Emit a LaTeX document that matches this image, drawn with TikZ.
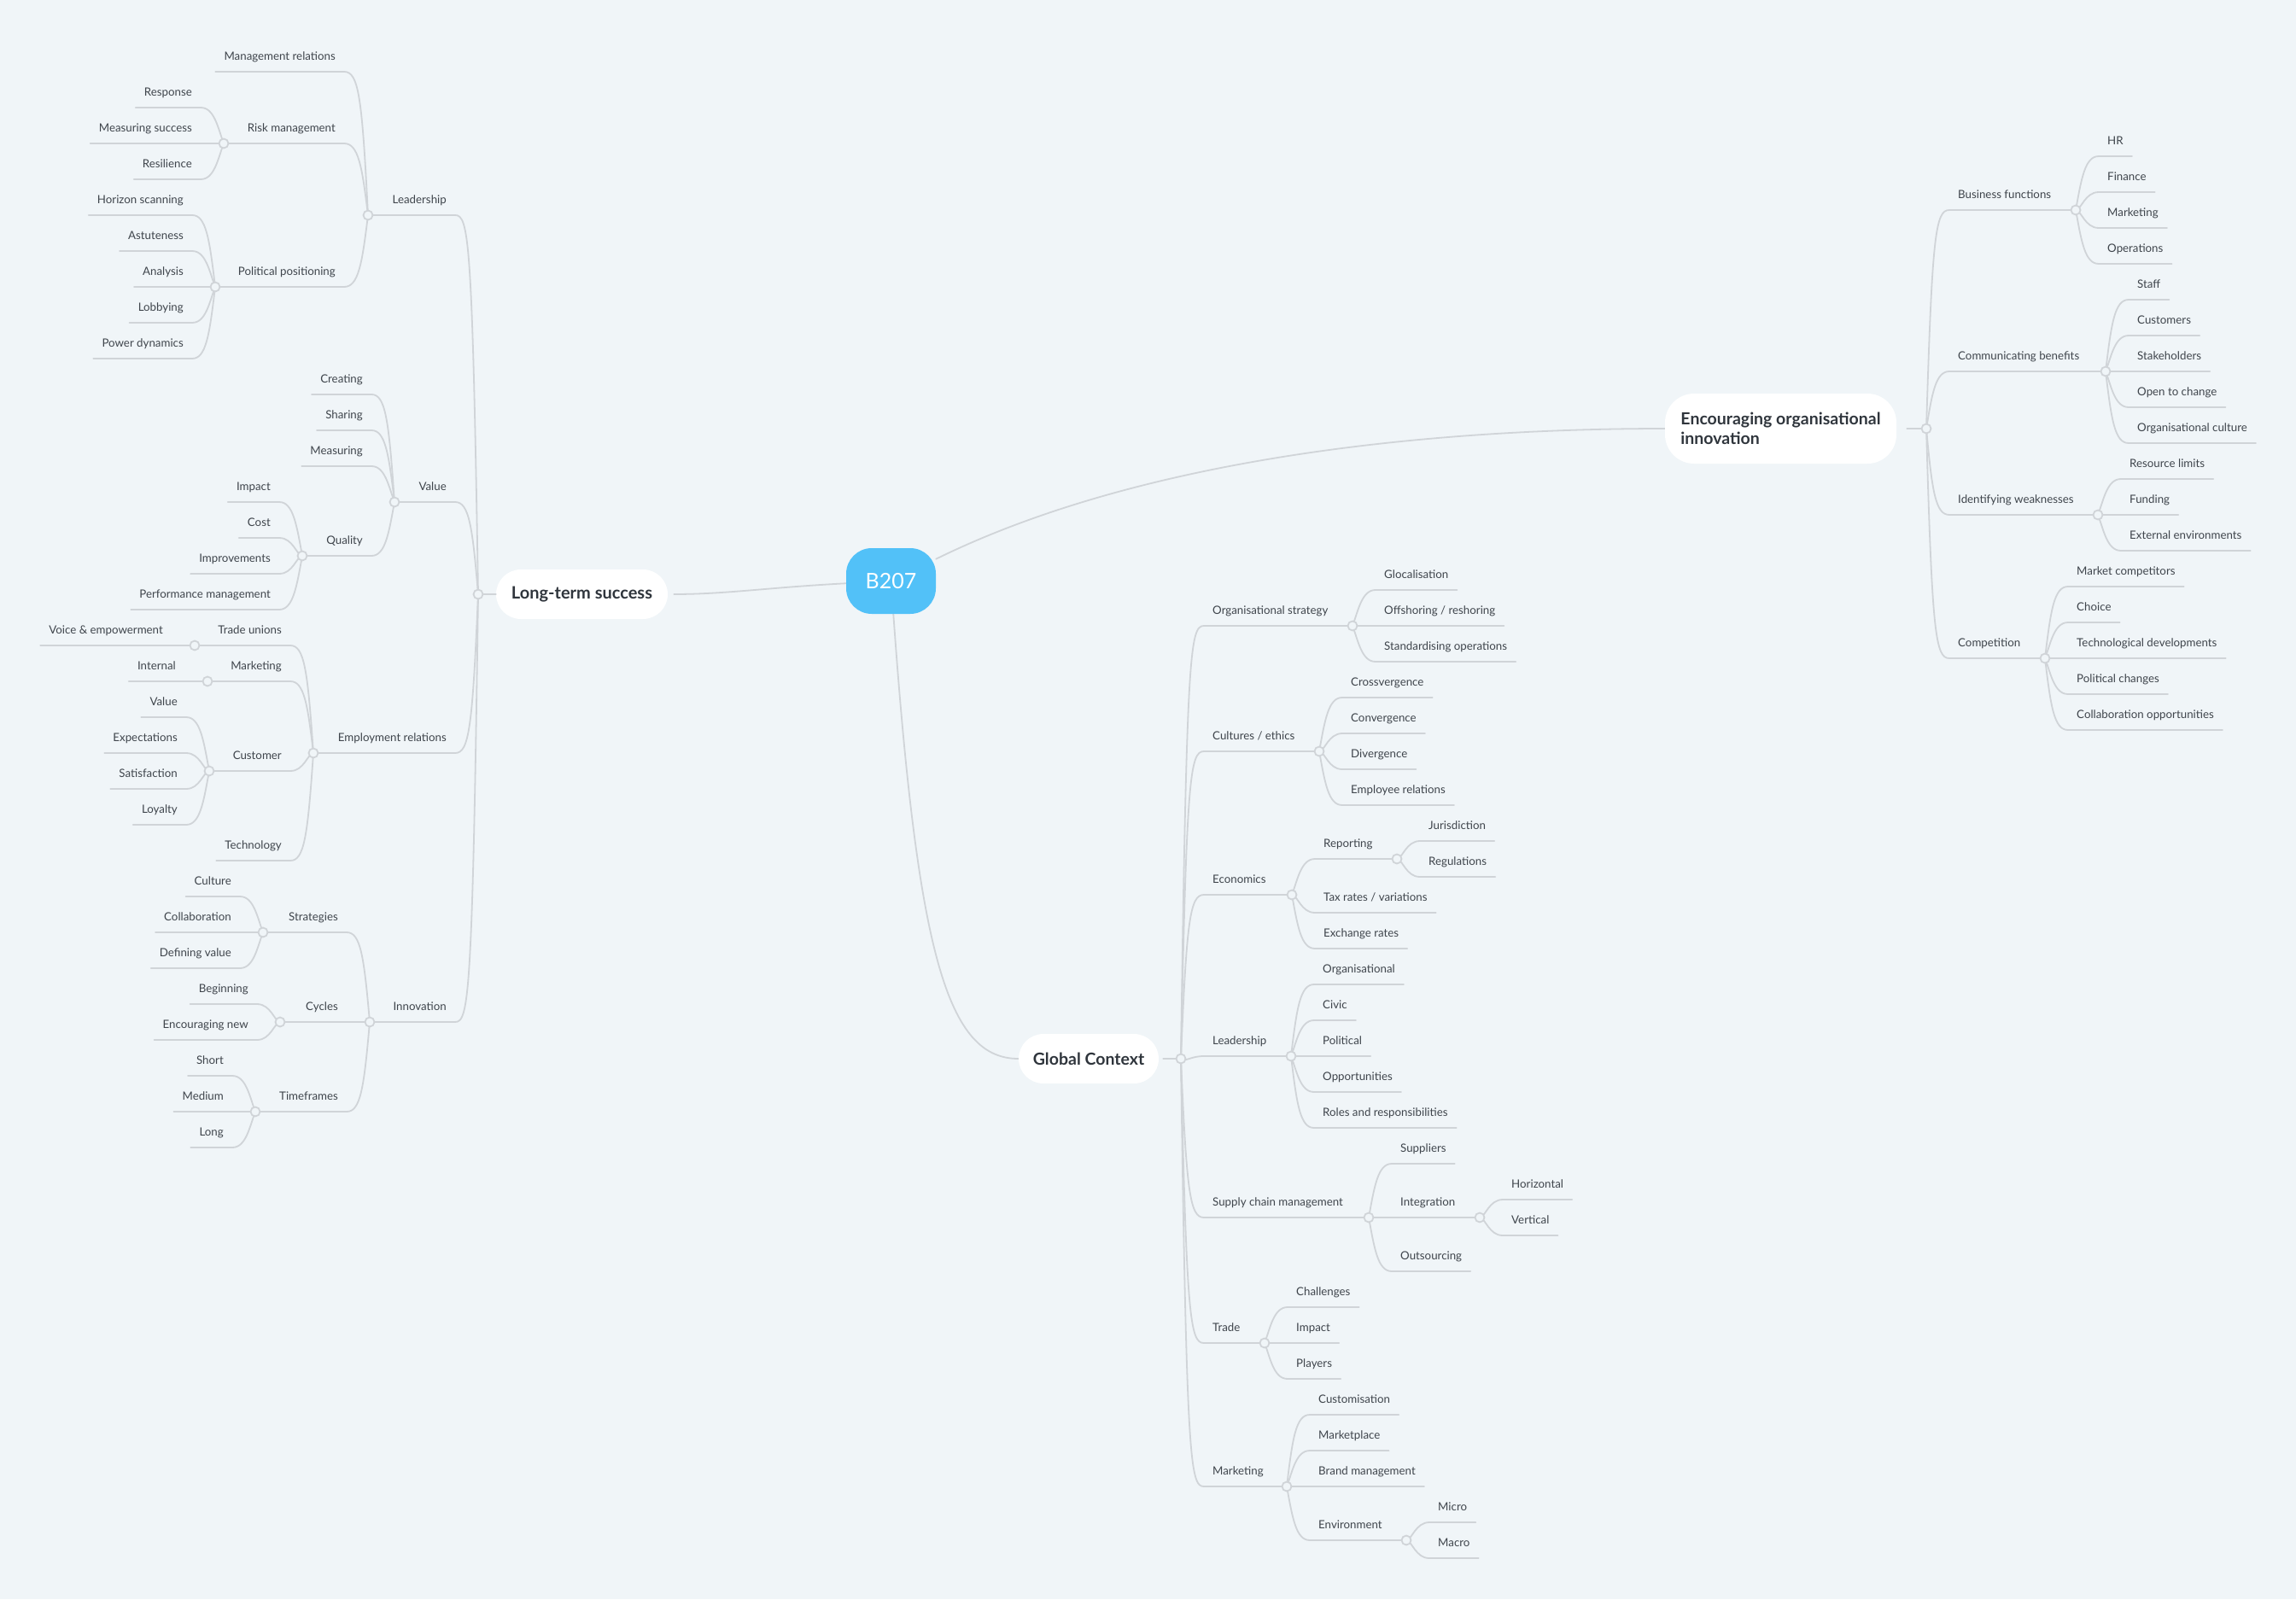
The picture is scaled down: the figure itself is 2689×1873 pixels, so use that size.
\documentclass[tikz,border=0pt]{standalone}
\usepackage{fontspec}
\setmainfont{Lato}
\usetikzlibrary{calc, backgrounds}
\definecolor{bgblue}{HTML}{F0F5F8}
\definecolor{linegray}{HTML}{D0D4D8}
\definecolor{leafgray}{HTML}{3F454C}
\definecolor{titlegray}{HTML}{2F353C}
\definecolor{rootblue}{HTML}{52C1F8}

\begin{document}
\begin{tikzpicture}[x=1pt, y=-1pt,
    link/.style={draw=linegray, line width=1.8pt, line cap=round},
    lbl/.style={font=\fontsize{13.3}{16}\selectfont, text=leafgray,
                inner xsep=10pt, inner ysep=0pt, text depth=13pt},
    lblL/.style={lbl, anchor=south east},
    lblR/.style={lbl, anchor=south west},
    pill/.style={fill=white, rounded corners=29pt, minimum height=58pt,
                 font=\fontsize{19.5}{23.5}\selectfont\bfseries, text=titlegray},
    knot/.style={draw=linegray, fill=bgblue, line width=1.8pt},
    curvy/.style={to path={let \p1=(\tikztostart), \p2=(\tikztotarget),
                  \n1={(\y2-\y1)/(abs(\y2-\y1)+10)*30} in
                  .. controls (\x1+0.6*\x2-0.6*\x1, \y1)
                  and (\x1+0.75*\x2-0.75*\x1, \y1+\n1) .. (\tikztotarget)}}]
  \useasboundingbox (0,0) rectangle (2689,1873);

  %► Central topic and main branches
  \node[fill=rootblue, text=white, rounded corners=30pt, minimum width=105pt,
        minimum height=77pt, font=\fontsize{25}{30}\selectfont] (root) at (1043.5,680.5) {B207};
  \node[pill, minimum width=201pt, font=\fontsize{20}{24}\selectfont\bfseries] (lts) at (681.5,696) {Long-term success};
  \node[pill, minimum width=164pt] (gc) at (1275,1240) {Global Context};
  \node[pill, minimum width=271pt, minimum height=82pt, rounded corners=34pt,
        align=left] (enc) at (2085.5,502) {Encouraging organisational\\innovation};

  %► Junction points
  \coordinate (jLTS)    at (560,696);
  \coordinate (jLead)   at (431,252);
  \coordinate (jRisk)   at (262,168);
  \coordinate (jPolit)  at (252,336);
  \coordinate (jValue)  at (462,588);
  \coordinate (jQual)   at (354,651);
  \coordinate (jEmp)    at (367,882);
  \coordinate (jTU)     at (228,756);
  \coordinate (jMkt)    at (243,798);
  \coordinate (jCust)   at (245,903);
  \coordinate (jInnov)  at (433,1197);
  \coordinate (jStrat)  at (308,1092);
  \coordinate (jCyc)    at (328,1197);
  \coordinate (jTime)   at (299,1302);
  \coordinate (jEnc)    at (2256,502);
  \coordinate (jBus)    at (2431,246);
  \coordinate (jComm)   at (2466,435);
  \coordinate (jWeak)   at (2457,603);
  \coordinate (jComp)   at (2395,771);
  \coordinate (jGC)     at (1383,1240);
  \coordinate (jOrgs)   at (1584,733);
  \coordinate (jCult)   at (1545,880);
  \coordinate (jEcon)   at (1513,1048);
  \coordinate (jRep)    at (1636,1006);
  \coordinate (jGlead)  at (1512,1237);
  \coordinate (jSupply) at (1603,1426);
  \coordinate (jInteg)  at (1733,1426);
  \coordinate (jTrade)  at (1481,1573);
  \coordinate (jGmkt)   at (1507,1741);
  \coordinate (jEnv)    at (1647,1804);

  %► Background and links from the centre
  \begin{scope}[on background layer]
    \fill[bgblue] (0,0) rectangle (2689,1873);
    \draw[link] (root) .. controls (1350,530) and (1700,502) .. (enc.west);
    \draw[link] (root) .. controls (1075,1120) and (1110,1240) .. (gc.west);
    \draw[link] (root) .. controls (900,688) and (850,696) .. ([xshift=7pt]lts.east);
  \end{scope}
  \draw[link] (lts.west) -- (jLTS);
  \draw[link] ([xshift=12pt]enc.east) -- (jEnc);
  \draw[link] ([xshift=5pt]gc.east) -- (jGC);

  %► Long-term success
  \node[lblL] (lead) at (533,252) {Leadership};
  \draw[link] (jLead) -- (lead.south east) to[curvy] (jLTS);
  \node[lblL] (mgmt) at (403,84) {Management relations};
  \draw[link] (mgmt.south west) -- (mgmt.south east) to[curvy] (jLead);
  \node[lblL] (risk) at (403,168) {Risk management};
  \draw[link] (jRisk) -- (risk.south east) to[curvy] (jLead);
  \foreach \txt/\yy [count=\i] in {Response/126, Measuring success/168, Resilience/210}{
    \node[lblL] (risk\i) at (235,\yy) {\txt};
    \draw[link] (risk\i.south west) -- (risk\i.south east) to[curvy] (jRisk);
  }
  \node[lblL] (polit) at (403,336) {Political positioning};
  \draw[link] (jPolit) -- (polit.south east) to[curvy] (jLead);
  \foreach \txt/\yy [count=\i] in {Horizon scanning/252, Astuteness/294, Analysis/336,
      Lobbying/378, Power dynamics/420}{
    \node[lblL] (polit\i) at (225,\yy) {\txt};
    \draw[link] (polit\i.south west) -- (polit\i.south east) to[curvy] (jPolit);
  }

  \node[lblL] (value) at (533,588) {Value};
  \draw[link] (jValue) -- (value.south east) to[curvy] (jLTS);
  \foreach \txt/\yy [count=\i] in {Creating/462, Sharing/504, Measuring/546}{
    \node[lblL] (value\i) at (435,\yy) {\txt};
    \draw[link] (value\i.south west) -- (value\i.south east) to[curvy] (jValue);
  }
  \node[lblL] (qual) at (435,651) {Quality};
  \draw[link] (jQual) -- (qual.south east) to[curvy] (jValue);
  \foreach \txt/\yy [count=\i] in {Impact/588, Cost/630, Improvements/672,
      Performance management/714}{
    \node[lblL] (qual\i) at (327,\yy) {\txt};
    \draw[link] (qual\i.south west) -- (qual\i.south east) to[curvy] (jQual);
  }

  \node[lblL] (emp) at (533,882) {Employment relations};
  \draw[link] (jEmp) -- (emp.south east) to[curvy] (jLTS);
  \node[lblL] (tu) at (340,756) {Trade unions};
  \draw[link] (jTU) -- (tu.south east) to[curvy] (jEmp);
  \node[lblL] (voice) at (201,756) {Voice \& empowerment};
  \draw[link] (voice.south west) -- (voice.south east) to[curvy] (jTU);
  \node[lblL] (mkt) at (340,798) {Marketing};
  \draw[link] (jMkt) -- (mkt.south east) to[curvy] (jEmp);
  \node[lblL] (internal) at (216,798) {Internal};
  \draw[link] (internal.south west) -- (internal.south east) to[curvy] (jMkt);
  \node[lblL] (cust) at (340,903) {Customer};
  \draw[link] (jCust) -- (cust.south east) to[curvy] (jEmp);
  \foreach \txt/\yy [count=\i] in {Value/840, Expectations/882, Satisfaction/924, Loyalty/966}{
    \node[lblL] (cust\i) at (218,\yy) {\txt};
    \draw[link] (cust\i.south west) -- (cust\i.south east) to[curvy] (jCust);
  }
  \node[lblL] (tech) at (340,1008) {Technology};
  \draw[link] (tech.south west) -- (tech.south east) to[curvy] (jEmp);

  \node[lblL] (innov) at (533,1197) {Innovation};
  \draw[link] (jInnov) -- (innov.south east) to[curvy] (jLTS);
  \node[lblL] (strat) at (406,1092) {Strategies};
  \draw[link] (jStrat) -- (strat.south east) to[curvy] (jInnov);
  \foreach \txt/\yy [count=\i] in {Culture/1050, Collaboration/1092, Defining value/1134}{
    \node[lblL] (strat\i) at (281,\yy) {\txt};
    \draw[link] (strat\i.south west) -- (strat\i.south east) to[curvy] (jStrat);
  }
  \node[lblL] (cyc) at (406,1197) {Cycles};
  \draw[link] (jCyc) -- (cyc.south east) to[curvy] (jInnov);
  \foreach \txt/\yy [count=\i] in {Beginning/1176, Encouraging new/1218}{
    \node[lblL] (cyc\i) at (301,\yy) {\txt};
    \draw[link] (cyc\i.south west) -- (cyc\i.south east) to[curvy] (jCyc);
  }
  \node[lblL] (time) at (406,1302) {Timeframes};
  \draw[link] (jTime) -- (time.south east) to[curvy] (jInnov);
  \foreach \txt/\yy [count=\i] in {Short/1260, Medium/1302, Long/1344}{
    \node[lblL] (time\i) at (272,\yy) {\txt};
    \draw[link] (time\i.south west) -- (time\i.south east) to[curvy] (jTime);
  }

  %► Encouraging organisational innovation
  \node[lblR] (bus) at (2283,246) {Business functions};
  \draw[link] (jBus) -- (bus.south west) to[curvy] (jEnc);
  \foreach \txt/\yy [count=\i] in {HR/183, Finance/225, Marketing/267, Operations/309}{
    \node[lblR] (bus\i) at (2458,\yy) {\txt};
    \draw[link] (bus\i.south east) -- (bus\i.south west) to[curvy] (jBus);
  }
  \node[lblR] (comm) at (2283,435) {Communicating benefits};
  \draw[link] (jComm) -- (comm.south west) to[curvy] (jEnc);
  \foreach \txt/\yy [count=\i] in {Staff/351, Customers/393, Stakeholders/435,
      Open to change/477, Organisational culture/519}{
    \node[lblR] (comm\i) at (2493,\yy) {\txt};
    \draw[link] (comm\i.south east) -- (comm\i.south west) to[curvy] (jComm);
  }
  \node[lblR] (weak) at (2283,603) {Identifying weaknesses};
  \draw[link] (jWeak) -- (weak.south west) to[curvy] (jEnc);
  \foreach \txt/\yy [count=\i] in {Resource limits/561, Funding/603, External environments/645}{
    \node[lblR] (weak\i) at (2484,\yy) {\txt};
    \draw[link] (weak\i.south east) -- (weak\i.south west) to[curvy] (jWeak);
  }
  \node[lblR] (comp) at (2283,771) {Competition};
  \draw[link] (jComp) -- (comp.south west) to[curvy] (jEnc);
  \foreach \txt/\yy [count=\i] in {Market competitors/687, Choice/729,
      Technological developments/771, Political changes/813, Collaboration opportunities/855}{
    \node[lblR] (comp\i) at (2422,\yy) {\txt};
    \draw[link] (comp\i.south east) -- (comp\i.south west) to[curvy] (jComp);
  }

  %► Global Context
  \node[lblR] (orgs) at (1410,733) {Organisational strategy};
  \draw[link] (jOrgs) -- (orgs.south west) to[curvy] (jGC);
  \foreach \txt/\yy [count=\i] in {Glocalisation/691, {Offshoring / reshoring}/733,
      Standardising operations/775}{
    \node[lblR] (orgs\i) at (1611,\yy) {\txt};
    \draw[link] (orgs\i.south east) -- (orgs\i.south west) to[curvy] (jOrgs);
  }
  \node[lblR] (cult) at (1410,880) {Cultures / ethics};
  \draw[link] (jCult) -- (cult.south west) to[curvy] (jGC);
  \foreach \txt/\yy [count=\i] in {Crossvergence/817, Convergence/859, Divergence/901,
      Employee relations/943}{
    \node[lblR] (cult\i) at (1572,\yy) {\txt};
    \draw[link] (cult\i.south east) -- (cult\i.south west) to[curvy] (jCult);
  }
  \node[lblR] (econ) at (1410,1048) {Economics};
  \draw[link] (jEcon) -- (econ.south west) to[curvy] (jGC);
  \node[lblR] (rep) at (1540,1006) {Reporting};
  \draw[link] (jRep) -- (rep.south west) to[curvy] (jEcon);
  \foreach \txt/\yy [count=\i] in {Jurisdiction/985, Regulations/1027}{
    \node[lblR] (rep\i) at (1663,\yy) {\txt};
    \draw[link] (rep\i.south east) -- (rep\i.south west) to[curvy] (jRep);
  }
  \foreach \txt/\yy [count=\i] in {{Tax rates / variations}/1069, Exchange rates/1111}{
    \node[lblR] (econ\i) at (1540,\yy) {\txt};
    \draw[link] (econ\i.south east) -- (econ\i.south west) to[curvy] (jEcon);
  }
  \node[lblR] (glead) at (1410,1237) {Leadership};
  \draw[link] (jGlead) -- (glead.south west) to[curvy] (jGC);
  \foreach \txt/\yy [count=\i] in {Organisational/1153, Civic/1195, Political/1237,
      Opportunities/1279, Roles and responsibilities/1321}{
    \node[lblR] (glead\i) at (1539,\yy) {\txt};
    \draw[link] (glead\i.south east) -- (glead\i.south west) to[curvy] (jGlead);
  }
  \node[lblR] (supply) at (1410,1426) {Supply chain management};
  \draw[link] (jSupply) -- (supply.south west) to[curvy] (jGC);
  \node[lblR] (suppl) at (1630,1363) {Suppliers};
  \draw[link] (suppl.south east) -- (suppl.south west) to[curvy] (jSupply);
  \node[lblR] (integ) at (1630,1426) {Integration};
  \draw[link] (jInteg) -- (integ.south west) to[curvy] (jSupply);
  \foreach \txt/\yy [count=\i] in {Horizontal/1405, Vertical/1447}{
    \node[lblR] (integ\i) at (1760,\yy) {\txt};
    \draw[link] (integ\i.south east) -- (integ\i.south west) to[curvy] (jInteg);
  }
  \node[lblR] (outs) at (1630,1489) {Outsourcing};
  \draw[link] (outs.south east) -- (outs.south west) to[curvy] (jSupply);
  \node[lblR] (trade) at (1410,1573) {Trade};
  \draw[link] (jTrade) -- (trade.south west) to[curvy] (jGC);
  \foreach \txt/\yy [count=\i] in {Challenges/1531, Impact/1573, Players/1615}{
    \node[lblR] (trade\i) at (1508,\yy) {\txt};
    \draw[link] (trade\i.south east) -- (trade\i.south west) to[curvy] (jTrade);
  }
  \node[lblR] (gmkt) at (1410,1741) {Marketing};
  \draw[link] (jGmkt) -- (gmkt.south west) to[curvy] (jGC);
  \foreach \txt/\yy [count=\i] in {Customisation/1657, Marketplace/1699, Brand management/1741}{
    \node[lblR] (gmkt\i) at (1534,\yy) {\txt};
    \draw[link] (gmkt\i.south east) -- (gmkt\i.south west) to[curvy] (jGmkt);
  }
  \node[lblR] (env) at (1534,1804) {Environment};
  \draw[link] (jEnv) -- (env.south west) to[curvy] (jGmkt);
  \foreach \txt/\yy [count=\i] in {Micro/1783, Macro/1825}{
    \node[lblR] (env\i) at (1674,\yy) {\txt};
    \draw[link] (env\i.south east) -- (env\i.south west) to[curvy] (jEnv);
  }

  %► Junction circles
  \foreach \j in {jLTS, jLead, jRisk, jPolit, jValue, jQual, jEmp, jTU, jMkt, jCust,
      jInnov, jStrat, jCyc, jTime, jEnc, jBus, jComm, jWeak, jComp, jGC, jOrgs, jCult,
      jEcon, jRep, jGlead, jSupply, jInteg, jTrade, jGmkt, jEnv}
    \draw[knot] (\j) circle[radius=5.5pt];
\end{tikzpicture}
\end{document}
